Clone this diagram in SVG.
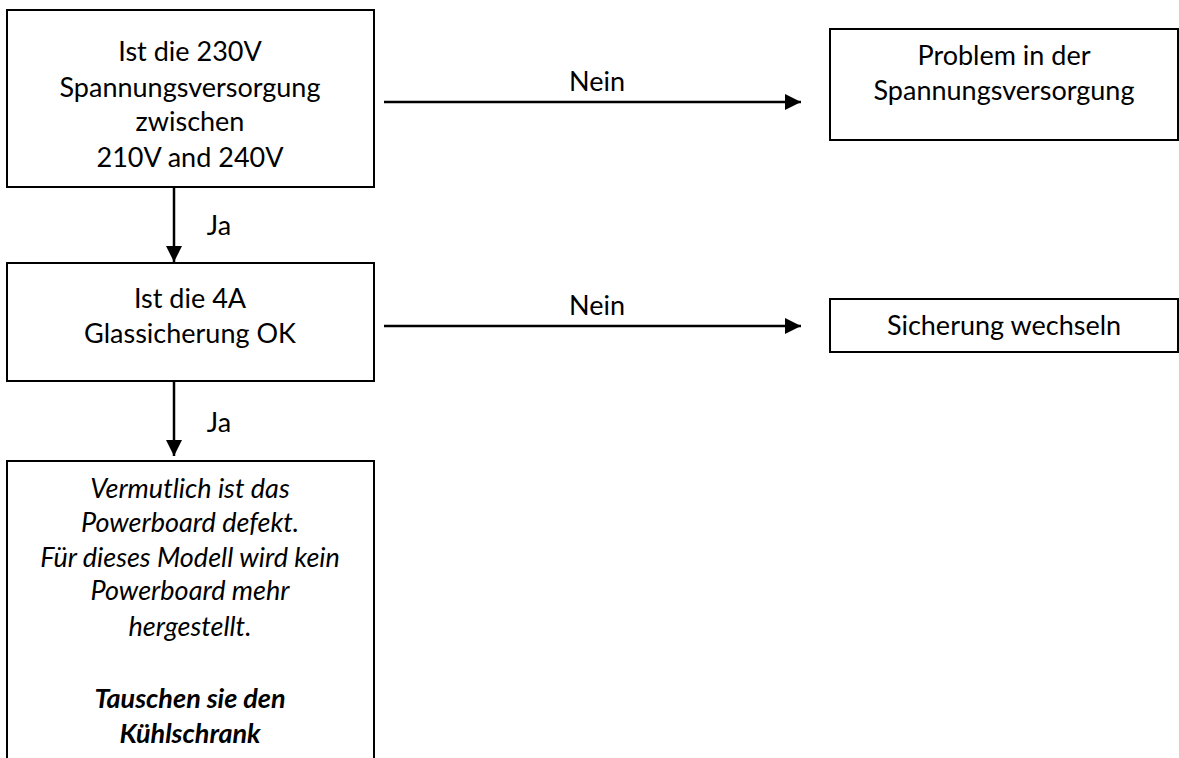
<svg xmlns="http://www.w3.org/2000/svg" width="1179" height="758" viewBox="0 0 1179 758">
<style>
.box{fill:#fff;stroke:#000;stroke-width:2}
.t{font-family:Lato,"Liberation Sans",sans-serif;font-size:27px;fill:#000;text-anchor:middle}
.i{font-style:italic}
.b{font-weight:bold}
.c{stroke:#000;stroke-width:2.5;fill:none}
</style>
<defs>
<marker id="ah" markerWidth="16" markerHeight="16" viewBox="0 0 16 16" refX="16" refY="8" orient="auto" markerUnits="userSpaceOnUse">
<path d="M0,0 L16,8 L0,16 Z" fill="#000"/>
</marker>
</defs>
<g id="n1">
<rect class="box" x="7" y="10" width="367" height="177"/>
<text class="t" x="190" y="61">Ist die 230V</text>
<text class="t" x="190" y="97">Spannungsversorgung</text>
<text class="t" x="190" y="131">zwischen</text>
<text class="t" x="190" y="167">210V and 240V</text>
</g>
<g id="n2">
<rect class="box" x="830" y="29" width="348" height="111"/>
<text class="t" x="1004" y="65">Problem in der</text>
<text class="t" x="1004" y="100">Spannungsversorgung</text>
</g>
<g id="n3">
<rect class="box" x="7" y="263" width="367" height="118"/>
<text class="t" x="190" y="308">Ist die 4A</text>
<text class="t" x="190" y="343">Glassicherung OK</text>
</g>
<g id="n4">
<rect class="box" x="830" y="299" width="348" height="53"/>
<text class="t" x="1004" y="335">Sicherung wechseln</text>
</g>
<g id="n5">
<path class="box" d="M7,780 L7,461 L374,461 L374,780"/>
<text class="t i" x="190" y="498">Vermutlich ist das</text>
<text class="t i" x="190" y="532">Powerboard defekt.</text>
<text class="t i" x="190" y="567">Für dieses Modell wird kein</text>
<text class="t i" x="190" y="600">Powerboard mehr</text>
<text class="t i" x="190" y="636">hergestellt.</text>
<text class="t i b" x="190" y="708">Tauschen sie den</text>
<text class="t i b" x="190" y="743">Kühlschrank</text>
</g>
<g id="connectors">
<line class="c" x1="384" y1="102" x2="801" y2="102" marker-end="url(#ah)"/>
<text class="t" x="597" y="91">Nein</text>
<line class="c" x1="384" y1="326" x2="801" y2="326" marker-end="url(#ah)"/>
<text class="t" x="597" y="315">Nein</text>
<line class="c" x1="174" y1="187" x2="174" y2="262" marker-end="url(#ah)"/>
<text class="t" x="219" y="235">Ja</text>
<line class="c" x1="174" y1="381" x2="174" y2="456" marker-end="url(#ah)"/>
<text class="t" x="219" y="432">Ja</text>
</g>
</svg>
